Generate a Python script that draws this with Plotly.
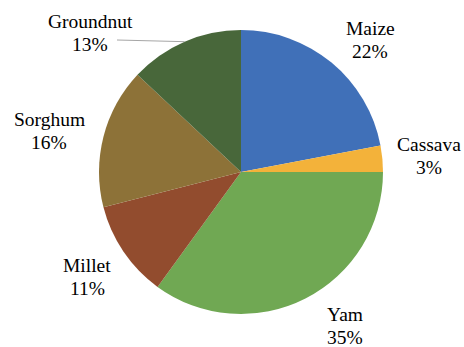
import math
import plotly.graph_objects as go

# ---- data ----
crops = ["Maize", "Cassava", "Yam", "Millet", "Sorghum", "Groundnut"]
shares = [22, 3, 35, 11, 16, 13]
colors = ["#4070B8", "#F3B23A", "#70A853", "#924C2E", "#8D7238", "#48673A"]

W, H = 464, 347
CX, CY, R = 241, 172, 142  # pie centre / radius in pixels

fig = go.Figure(go.Pie(
    labels=crops, values=shares, sort=False, direction="clockwise", rotation=0,
    marker=dict(colors=colors, line=dict(width=0)),
    textinfo="none", hoverinfo="skip", showlegend=False,
    domain=dict(x=[(CX - R) / W, (CX + R) / W], y=[1 - (CY + R) / H, 1 - (CY - R) / H]),
))

# label block centres in pixels (layout only)
label_pos = {"Maize": (370, 40), "Cassava": (429, 156), "Yam": (345, 326),
             "Millet": (87, 277), "Sorghum": (49, 131), "Groundnut": (90, 33)}
leader = {"Groundnut": (117, 40)}

SERIF = "Liberation Serif"

def to_paper(px, py):
    return px / W, 1 - py / H

total = sum(shares)
cum = 0
for name, v in zip(crops, shares):
    mid = (cum + v / 2) / total * 2 * math.pi
    cum += v
    lx, ly = label_pos[name]
    if name in leader:
        sx, sy = leader[name]
        ex = CX + R * math.sin(mid)
        ey = CY - R * math.cos(mid)
        x0, y0 = to_paper(sx, sy)
        x1, y1 = to_paper(ex, ey)
        fig.add_shape(type="line", xref="paper", yref="paper", x0=x0, y0=y0, x1=x1, y1=y1,
                      line=dict(color="#A6A6A6", width=1))
    for txt, off in ((name, -11.5), (f"{v}%", 11.5)):
        ax, ay = to_paper(lx, ly + off)
        fig.add_annotation(x=ax, y=ay, xref="paper", yref="paper", text=txt, showarrow=False,
                           xanchor="center", yanchor="middle",
                           font=dict(family=SERIF, size=19.5, color="black"))

fig.update_layout(width=W, height=H, margin=dict(l=0, r=0, t=0, b=0),
                  font=dict(family=SERIF, size=19, color="black"),
                  paper_bgcolor="white", plot_bgcolor="white")
fig.write_html("out.html")
